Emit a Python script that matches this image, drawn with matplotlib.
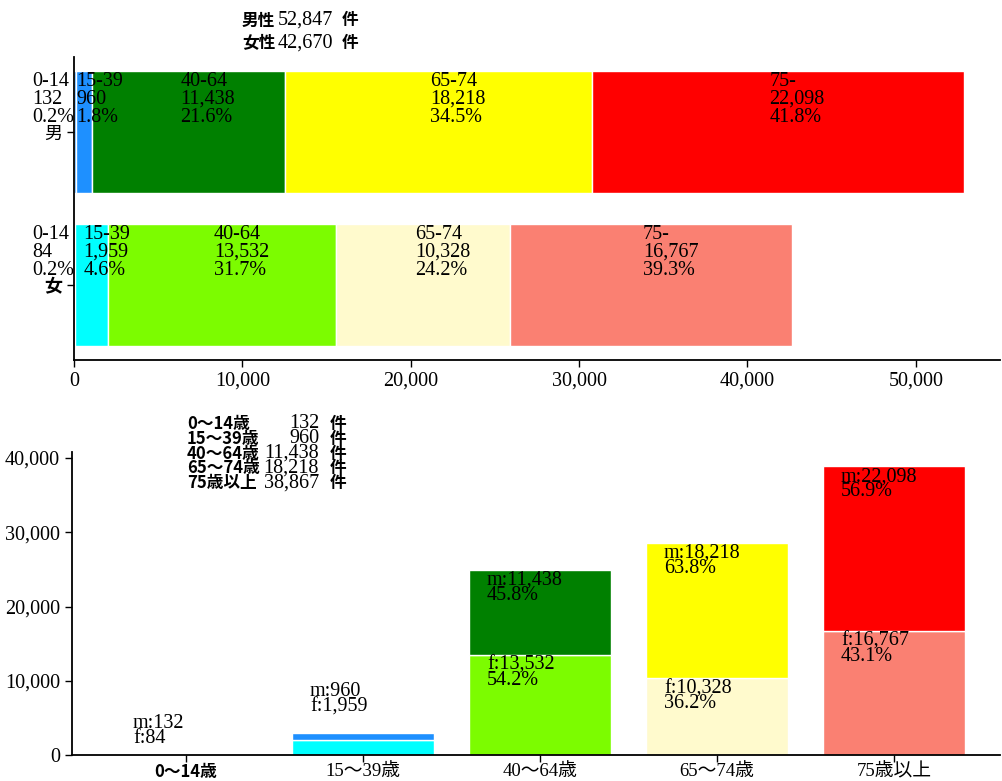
import matplotlib
matplotlib.use('Agg')
import matplotlib.pyplot as plt
from matplotlib.ticker import FuncFormatter

SERIF = ['Liberation Serif', 'Noto Sans CJK JP']
JP = ['Noto Sans CJK JP', 'DejaVu Sans']

# data
age_groups = ['0-14', '15-39', '40-64', '65-74', '75-']
age_ticks = ['0〜14歳', '15〜39歳', '40〜64歳', '65〜74歳', '75歳以上']
male = [132, 960, 11438, 18218, 22098]
female = [84, 1959, 13532, 10328, 16767]
sex_labels = ['男', '女']
header_labels = ['男性', '女性']
header_totals = [52847, 42670]
legend_counts = [132, 960, 11438, 18218, 38867]

male_colors = ['dodgerblue', 'dodgerblue', 'green', 'yellow', 'red']
female_colors = ['cyan', 'cyan', 'lawngreen', 'lemonchiffon', 'salmon']

W, H = 1002, 781
FS = 14.5    # numbers
JFS = 12     # japanese text


def pt(p):
    """pixels -> points at dpi 100"""
    return p * 0.72


def fx(p):
    return p / W


def fy(p):
    return 1 - p / H


def comma(v, pos=None):
    return f'{v:,.0f}'


def stacked_lines(ax, lines, x, y, step, dy0=0, ha='left', dx=0):
    for k, line in enumerate(lines):
        ax.annotate(line, xy=(x, y), xytext=(pt(dx), pt(dy0 - k * step)),
                    textcoords='offset points', ha=ha, va='top',
                    fontsize=FS, family=SERIF)


fig = plt.figure(figsize=(W / 100, H / 100), dpi=100)

# ---- top: horizontal stacked bars by sex ----
ax1 = fig.add_axes([fx(74), fy(360), fx(1000) - fx(74), fy(57) - fy(360)])
for row, (vals, cols, total) in enumerate([(male, male_colors, header_totals[0]),
                                           (female, female_colors, header_totals[1])]):
    left = 0
    for i, v in enumerate(vals):
        ax1.barh(row, v, left=left, height=0.8, color=cols[i],
                 edgecolor='white', linewidth=1)
        lines = [age_groups[i], f'{v:,}', f'{v / total * 100:.1f}%']
        if i == 0:
            stacked_lines(ax1, lines, 0, row - 0.4, 18, dy0=-1, dx=-42)
        else:
            stacked_lines(ax1, lines, left + v / 2 - 500, row - 0.4, 18, dy0=-1)
        left += v
ax1.invert_yaxis()
ax1.set_xlim(0, 55000)
ax1.set_yticks([0, 1])
ax1.set_yticklabels(sex_labels, family=JP, fontsize=JFS + 1)
ax1.get_yticklabels()[1].set_fontweight('bold')
ax1.xaxis.set_major_formatter(FuncFormatter(comma))
for lab in ax1.get_xticklabels():
    lab.set_family(SERIF)
    lab.set_fontsize(FS)

# header
for k, (lab, tot) in enumerate(zip(header_labels, header_totals)):
    yy = fy(20.5 + k * 22.5)
    fig.text(fx(242), yy, lab, family=JP, fontweight='bold', fontsize=JFS, va='center')
    fig.text(fx(278), yy, f'{tot:,}', family=SERIF, fontsize=FS, va='center')
    fig.text(fx(342), yy, '件', family=JP, fontweight='bold', fontsize=JFS, va='center')

# ---- bottom: vertical stacked bars by age ----
ax2 = fig.add_axes([fx(72), fy(755), fx(1000) - fx(72), fy(452) - fy(755)])
x = list(range(len(age_ticks)))
ax2.bar(x, female, width=0.8, color=female_colors, edgecolor='white', linewidth=1)
ax2.bar(x, male, width=0.8, bottom=female, color=male_colors,
        edgecolor='white', linewidth=1)

small_pad = [39, 51]  # px above the bar for the two tiny groups
for i in x:
    m, f = male[i], female[i]
    tot = m + f
    if i < 2:
        stacked_lines(ax2, [f'm:{m:,}', f'f:{f:,}'], i - 0.3, tot, 15, dy0=small_pad[i])
    else:
        stacked_lines(ax2, [f'm:{m:,}', f'{m / tot * 100:.1f}%'], i - 0.3, tot, 15, dy0=-1)
        stacked_lines(ax2, [f'f:{f:,}', f'{f / tot * 100:.1f}%'], i - 0.3, f, 15, dy0=-1)

ax2.set_xlim(-0.644, 4.599)
ax2.set_xticks(x)
ax2.set_xticklabels(age_ticks, family=SERIF, fontsize=13.5)
ax2.get_xticklabels()[0].set_family(JP)
ax2.get_xticklabels()[0].set_fontweight('bold')
ax2.get_xticklabels()[0].set_fontsize(JFS)
ax2.yaxis.set_major_formatter(FuncFormatter(comma))
ax2.set_yticks([0, 10000, 20000, 30000, 40000])
for lab in ax2.get_yticklabels():
    lab.set_family(SERIF)
    lab.set_fontsize(FS)
ax2.tick_params(axis='x', pad=1)

# count table
for k, (lab, cnt) in enumerate(zip(age_ticks, legend_counts)):
    yy = fy(424 + k * 14.75)
    fig.text(fx(187), yy, lab, family=JP, fontweight='bold', fontsize=JFS, va='center')
    fig.text(fx(319), yy, f'{cnt:,}', family=SERIF, fontsize=FS, va='center', ha='right')
    fig.text(fx(330), yy, '件', family=JP, fontweight='bold', fontsize=JFS, va='center')

for ax in (ax1, ax2):
    ax.spines['top'].set_visible(False)
    ax.spines['right'].set_visible(False)
    ax.spines['left'].set_linewidth(1.3)
    ax.spines['bottom'].set_linewidth(1.3)
    ax.tick_params(length=5, width=1)

fig.savefig('out.png', dpi=100)
